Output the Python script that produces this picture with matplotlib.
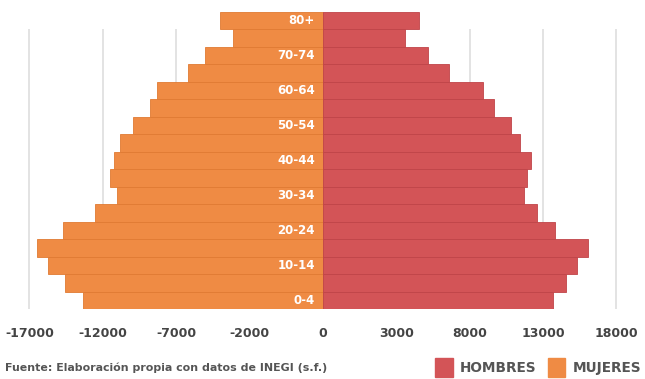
import matplotlib
matplotlib.use("Agg")
import matplotlib.pyplot as plt
from matplotlib.patches import Rectangle

# age groups, bottom to top
AGES = ["0-4", "5-9", "10-14", "15-19", "20-24", "25-29", "30-34", "35-39",
        "40-44", "45-49", "50-54", "55-59", "60-64", "65-69", "70-74",
        "75-79", "80+"]
MUJERES = [16350, 17550, 18750, 19500, 17700, 15550, 14050, 14500,
           14250, 13850, 12950, 11800, 11300, 9200, 8050, 6100, 7000]
HOMBRES = [15650, 16600, 17300, 18100, 15850, 14600, 13700, 13900,
           14150, 13400, 12800, 11650, 10900, 8600, 7150, 5600, 6550]
TICK_POS = [-20000, -15000, -10000, -5000, 0, 5000, 10000, 15000, 20000]
TICK_LABELS = ["-17000", "-12000", "-7000", "-2000", "0",
               "3000", "8000", "13000", "18000"]

C_MUJ = "#EF8B44"
C_HOM = "#D35457"
W, H = 645, 379

fig = plt.figure(figsize=(W / 100, H / 100), dpi=100)
ax = fig.add_axes([0, (H - 309) / H, 1, (309 - 12) / H])

y = list(range(len(AGES)))
# light vertical gridlines (not at zero, hidden by the bars anyway)
grid_x = [t for t in TICK_POS if t != 0]
ax.vlines(grid_x, -0.5, len(AGES) - 1.5, color="#e0e0e0", linewidth=1.3, zorder=0)

ax.barh(y, [-v for v in MUJERES], height=1.0, color=C_MUJ,
        edgecolor="#e07a33", linewidth=0.6, zorder=2)
ax.barh(y, HOMBRES, height=1.0, color=C_HOM,
        edgecolor="#c04448", linewidth=0.6, zorder=2)

for i, age in enumerate(AGES):
    if i % 2 == 0:
        ax.text(-550, i, age, ha="right", va="center", color="white",
                fontsize=8.5, fontweight="bold", zorder=3)

ax.set_xlim(-22000, 21950)
ax.set_ylim(-0.5, len(AGES) - 0.5)
ax.set_xticks(TICK_POS, TICK_LABELS)
ax.tick_params(axis="x", length=0, pad=13, labelsize=9, labelcolor="#444444")
for lbl in ax.get_xticklabels():
    lbl.set_fontweight("bold")
ax.set_yticks([])
for s in ax.spines.values():
    s.set_visible(False)

fig.text(5 / W, 1 - 368 / H, "Fuente: Elaboración propia con datos de INEGI (s.f.)",
         ha="left", va="center", fontsize=7.9, fontweight="bold", color="#555555")

# legend drawn by hand
fig.add_artist(Rectangle((435 / W, 1 - 377 / H), 18 / W, 19 / H,
                         transform=fig.transFigure, color=C_HOM))
fig.text(460 / W, 1 - 368 / H, "HOMBRES", ha="left", va="center",
         fontsize=9.8, fontweight="bold", color="#555555")
fig.add_artist(Rectangle((548 / W, 1 - 377 / H), 17 / W, 19 / H,
                         transform=fig.transFigure, color=C_MUJ))
fig.text(573 / W, 1 - 368 / H, "MUJERES", ha="left", va="center",
         fontsize=9.8, fontweight="bold", color="#555555")

fig.savefig("out.png", dpi=100, facecolor="white")
